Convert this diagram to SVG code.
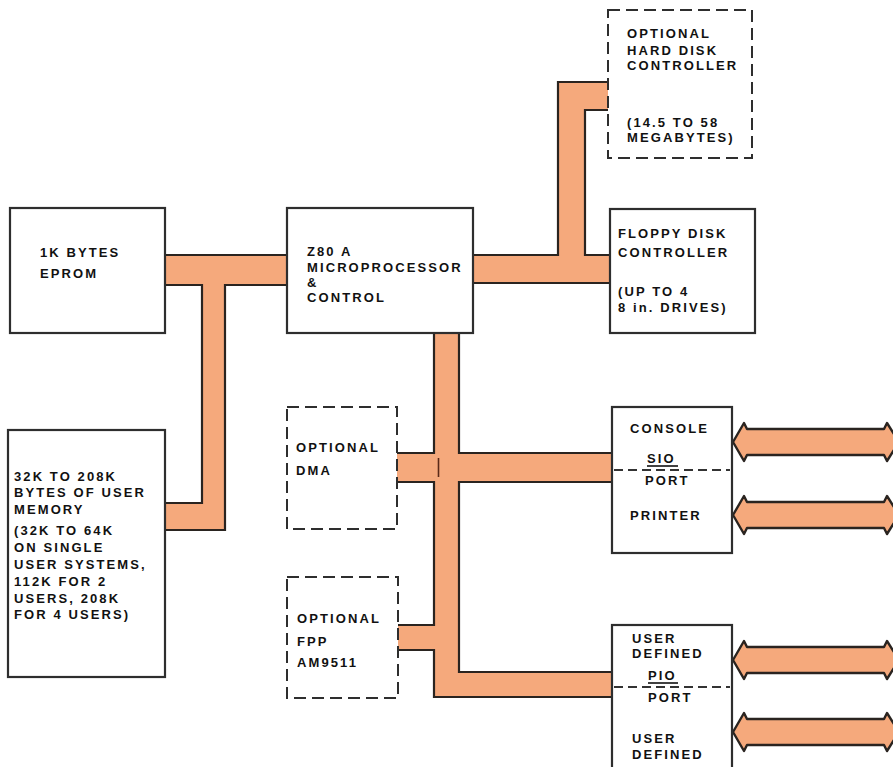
<svg xmlns="http://www.w3.org/2000/svg" width="893" height="767" viewBox="0 0 893 767">
<defs>
<style>
.box{fill:#fff;stroke:#2e2e2e;stroke-width:2.2}
.dbox{fill:#fff;stroke:#2e2e2e;stroke-width:2;stroke-dasharray:12 6}
.bus{fill:#F5A97C;stroke:none}
.edge{fill:none;stroke:#2a2420;stroke-width:2.2;stroke-linejoin:miter}
.arr{fill:#F5A97C;stroke:#2a2420;stroke-width:2.4;stroke-linejoin:round}
.sep{stroke:#333;stroke-width:1.8;stroke-dasharray:9 5}
.ul{stroke:#111;stroke-width:1.6}
text{font-family:"Liberation Sans",Arial,sans-serif;font-weight:bold;font-size:13px;letter-spacing:2.1px;fill:#111}
</style>
</defs>
<rect width="893" height="767" fill="#fff"/>
<g id="connectors">
<path class="bus" d="M165 255 H287 V285 H225 V530 H165 V503 H202 V285 H165 Z"/>
<polyline class="edge" points="165,255 287,255"/>
<polyline class="edge" points="165,285 202,285 202,503 165,503"/>
<polyline class="edge" points="287,285 225,285 225,530 165,530"/>
<path class="bus" d="M473 255 H558 V82 H608 V110 H585 V255 H610 V283 H473 Z"/>
<polyline class="edge" points="473,255 558,255 558,82 608,82"/>
<polyline class="edge" points="608,110 585,110 585,255 610,255"/>
<polyline class="edge" points="473,283 610,283"/>
<path class="bus" d="M434 333 H459 V453 H612 V482 H459 V672 H612 V697 H434 V650 H398 V625 H434 V482 H397 V453 H434 Z"/>
<polyline class="edge" points="434,333 434,453 397,453"/>
<polyline class="edge" points="397,482 434,482 434,625 398,625"/>
<polyline class="edge" points="398,650 434,650 434,697 612,697"/>
<polyline class="edge" points="459,333 459,453 612,453"/>
<polyline class="edge" points="612,482 459,482 459,672 612,672"/>
<line x1="438.5" y1="458" x2="438.5" y2="477" stroke="#5a2a18" stroke-width="1.6"/>
<path class="arr" d="M733 442 L744 423 L747 429 L884 429 L887 423 L899 442 L887 461 L884 455 L747 455 L744 461 Z"/>
<path class="arr" d="M733 515 L744 496 L747 502 L884 502 L887 496 L899 515 L887 534 L884 528 L747 528 L744 534 Z"/>
<path class="arr" d="M733 660 L744 641 L747 647 L884 647 L887 641 L899 660 L887 679 L884 673 L747 673 L744 679 Z"/>
<path class="arr" d="M733 732 L744 713 L747 719 L884 719 L887 713 L899 732 L887 751 L884 745 L747 745 L744 751 Z"/>
</g>
<g id="harddisk">
<rect class="dbox" x="608" y="10" width="144" height="148"/>
<text x="627" y="38">OPTIONAL</text>
<text x="627" y="55">HARD DISK</text>
<text x="627" y="70">CONTROLLER</text>
<text x="627" y="127">(14.5 TO 58</text>
<text x="627" y="142">MEGABYTES)</text>
</g>
<g id="eprom">
<rect class="box" x="10" y="208" width="155" height="125"/>
<text x="40" y="257">1K BYTES</text>
<text x="40" y="278">EPROM</text>
</g>
<g id="z80a">
<rect class="box" x="287" y="208" width="186" height="125"/>
<text x="307" y="256">Z80 A</text>
<text x="307" y="272">MICROPROCESSOR</text>
<text x="307" y="287">&amp;</text>
<text x="307" y="302">CONTROL</text>
</g>
<g id="floppy">
<rect class="box" x="610" y="209" width="145" height="124"/>
<text x="618" y="238">FLOPPY DISK</text>
<text x="618" y="257">CONTROLLER</text>
<text x="618" y="296">(UP TO 4</text>
<text x="618" y="312">8 in. DRIVES)</text>
</g>
<g id="memory">
<rect class="box" x="8" y="430" width="157" height="247"/>
<text x="14" y="481">32K TO 208K</text>
<text x="14" y="497">BYTES OF USER</text>
<text x="14" y="514">MEMORY</text>
<text x="14" y="535">(32K TO 64K</text>
<text x="14" y="552">ON SINGLE</text>
<text x="14" y="569">USER SYSTEMS,</text>
<text x="14" y="586">112K FOR 2</text>
<text x="14" y="603">USERS, 208K</text>
<text x="14" y="619">FOR 4 USERS)</text>
</g>
<g id="dma">
<rect class="dbox" x="287" y="407" width="110" height="122"/>
<text x="296" y="452">OPTIONAL</text>
<text x="296" y="475">DMA</text>
</g>
<g id="fpp">
<rect class="dbox" x="287" y="577" width="111" height="121"/>
<text x="297" y="623">OPTIONAL</text>
<text x="297" y="646">FPP</text>
<text x="297" y="667">AM9511</text>
</g>
<g id="sio">
<rect class="box" x="612" y="407" width="120" height="146"/>
<text x="630" y="433">CONSOLE</text>
<text x="647" y="463">SIO</text>
<line class="ul" x1="647" y1="466" x2="678" y2="466"/>
<line class="sep" x1="614" y1="470" x2="730" y2="470"/>
<text x="645" y="485">PORT</text>
<text x="630" y="520">PRINTER</text>
</g>
<g id="pio">
<rect class="box" x="612" y="625" width="120" height="160"/>
<text x="632" y="643">USER</text>
<text x="632" y="658">DEFINED</text>
<text x="648" y="680">PIO</text>
<line class="ul" x1="648" y1="683" x2="678" y2="683"/>
<line class="sep" x1="614" y1="687" x2="730" y2="687"/>
<text x="648" y="702">PORT</text>
<text x="632" y="743">USER</text>
<text x="632" y="759">DEFINED</text>
</g>
</svg>
